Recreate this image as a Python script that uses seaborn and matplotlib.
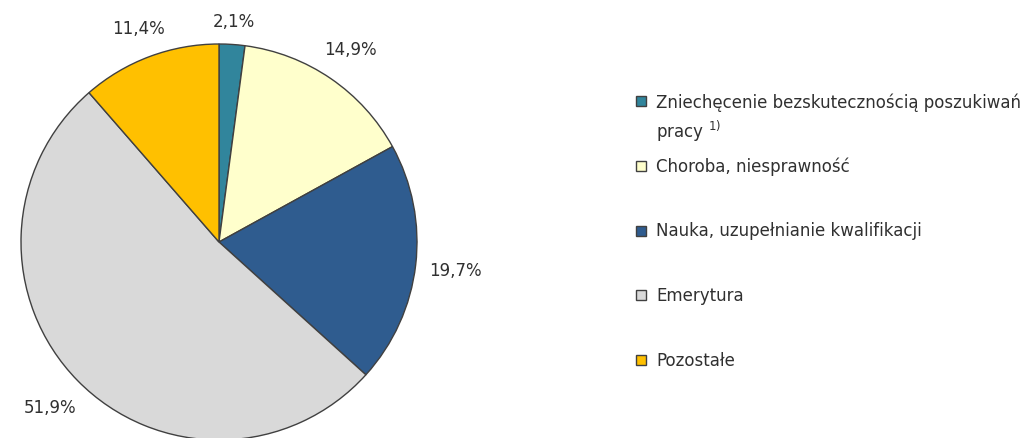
import matplotlib
matplotlib.use("Agg")
import numpy as np
import matplotlib.pyplot as plt
import seaborn as sns
from matplotlib.patches import Rectangle

# data
categories = ["Zniechęcenie bezskutecznością poszukiwań\npracy $^{1)}$",
              "Choroba, niesprawność",
              "Nauka, uzupełnianie kwalifikacji",
              "Emerytura",
              "Pozostałe"]
shares = [2.1, 14.9, 19.7, 51.9, 11.4]
colors = ["#31859C", "#FFFFCC", "#2F5C8F", "#D9D9D9", "#FFC000"]

sns.set_theme(style="white")
plt.rcParams["font.family"] = ["DejaVu Sans"]
text_color = "#303030"
fs = 12

W, H = 1032, 439
fig = plt.figure(figsize=(W / 100, H / 100), dpi=100)

# pie axes: centre (219, 243) px, radius 198 px
cx, cy, r = 219, 243, 198
ax = fig.add_axes([(cx - r) / W, (H - cy - r) / H, 2 * r / W, 2 * r / H])
wedges, texts, autotexts = ax.pie(
    shares, colors=colors, startangle=90, counterclock=False,
    autopct=lambda p: f"{p:.1f}%".replace(".", ","), pctdistance=1.2,
    wedgeprops=dict(edgecolor="#404040", linewidth=1.0),
    textprops=dict(fontsize=fs, color=text_color))
ax.set_xlim(-1, 1)
ax.set_ylim(-1, 1)
ax.set_aspect("equal")
ax.axis("off")

# put each percentage label just outside the wedge ("outside end")
fig.canvas.draw()
renderer = fig.canvas.get_renderer()
gap = 13 / r
for w, t in zip(wedges, autotexts):
    ang = np.deg2rad((w.theta1 + w.theta2) / 2)
    bb = t.get_window_extent(renderer)
    hw, hh = bb.width / 2 / r, bb.height / 2 / r
    c, s = np.cos(ang), np.sin(ang)
    d = 1 + gap + abs(c) * hw + abs(s) * hh
    t.set_position((d * c, d * s))
    t.set_ha("center")
    t.set_va("center")
    t.set_clip_on(False)

# legend drawn by hand so the marker sits on the first line of each entry
x0, y0, step = 636, 102, 64.75
for i, (lab, col) in enumerate(zip(categories, colors)):
    y = y0 + i * step
    fig.patches.append(Rectangle((x0 / W, (H - y - 5) / H), 10 / W, 10 / H,
                                 transform=fig.transFigure, facecolor=col,
                                 edgecolor="#404040", linewidth=1.0))
    fig.text((x0 + 20) / W, (H - y + 9) / H, lab, fontsize=fs, color=text_color,
             va="top", ha="left", linespacing=1.4)

fig.savefig("out.png", dpi=100)
